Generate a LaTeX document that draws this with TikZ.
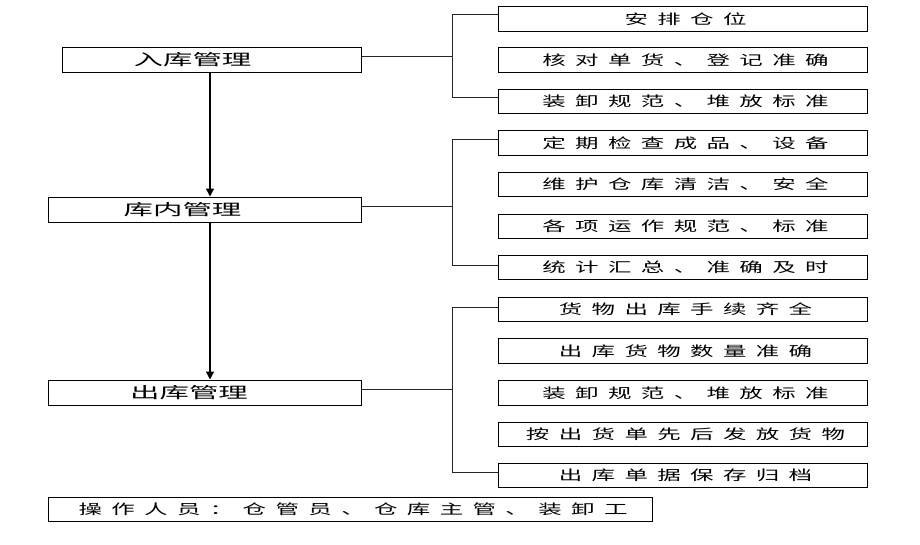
\documentclass[tikz,border=0pt]{standalone}
\usepackage{fontspec}
\usetikzlibrary{arrows.meta}
\newfontfamily\cjkL[FakeStretch=1.9]{Noto Sans CJK SC}
\newfontfamily\cjkR[FakeStretch=1.7,LetterSpace=68]{Noto Sans CJK SC}
\begin{document}
\begin{tikzpicture}[x=1pt,y=-1pt,
  lbox/.style={draw=black,line width=1pt,minimum height=25pt,inner sep=0pt,font=\cjkL\fontsize{15.5}{15.5}\selectfont},
  rbox/.style={draw=black,line width=1pt,minimum width=369pt,minimum height=24.5pt,inner sep=0pt,font=\cjkR\fontsize{13.8}{13.8}\selectfont},
  conn/.style={draw=black!85,line width=0.9pt},
  arr/.style={draw=black,line width=1.2pt,-{Triangle[length=8pt,width=8pt]}}]
\useasboundingbox (0,0) rectangle (920,544);
% left boxes
\node[lbox,minimum width=299pt] (in) at (211.5,59.5) {\hspace*{-38pt}入库管理};
\node[lbox,minimum width=313pt] (kn) at (204.5,209.5) {\hspace*{-44pt}库内管理};
\node[lbox,minimum width=313pt] (out) at (204.5,392.5) {\hspace*{-31pt}出库管理};
\node[rbox,minimum width=604pt] (ops) at (350,509.5) {\hspace*{6pt}操作人员：仓管员、仓库主管、装卸工};
% right boxes
\node[rbox] (r1) at (682.5,19) {\hspace*{6pt}安排仓位};
\node[rbox] (r2) at (682.5,60) {\hspace*{6pt}核对单货、登记准确};
\node[rbox] (r3) at (682.5,101.5) {\hspace*{6pt}装卸规范、堆放标准};
\node[rbox] (r4) at (682.5,143) {\hspace*{6pt}定期检查成品、设备};
\node[rbox] (r5) at (682.5,184.5) {\hspace*{6pt}维护仓库清洁、安全};
\node[rbox] (r6) at (682.5,226.5) {\hspace*{6pt}各项运作规范、标准};
\node[rbox] (r7) at (682.5,267.5) {\hspace*{6pt}统计汇总、准确及时};
\node[rbox] (r8) at (682.5,309.5) {\hspace*{6pt}货物出库手续齐全};
\node[rbox] (r9) at (682.5,351) {\hspace*{6pt}出库货物数量准确};
\node[rbox] (r10) at (682.5,393) {\hspace*{6pt}装卸规范、堆放标准};
\node[rbox] (r11) at (682.5,434.5) {\hspace*{6pt}按出货单先后发放货物};
\node[rbox] (r12) at (682.5,475.5) {\hspace*{6pt}出库单据保存归档};
% bracket coordinates
\coordinate (bx) at (452,0);
\coordinate (ax) at (210,0);
% arrows
\draw[arr] (in.south -| ax) -- (kn.north -| ax);
\draw[arr] (kn.south -| ax) -- (out.north -| ax);
% group 1
\draw[conn] ([yshift=3pt]in.east) -- ([yshift=3pt]in.east -| bx);
\draw[conn] ([yshift=5pt]r1.west) -- ([yshift=5pt]r1.west -| bx) -- ([yshift=4.5pt]r3.west -| bx) -- ([yshift=4.5pt]r3.west);
% group 2
\draw[conn] ([yshift=3.5pt]kn.east) -- ([yshift=3.5pt]kn.east -| bx);
\draw[conn] ([yshift=4pt]r4.west) -- ([yshift=4pt]r4.west -| bx) -- ([yshift=2.5pt]r7.west -| bx) -- ([yshift=2.5pt]r7.west);
% group 3
\draw[conn] ([yshift=3.5pt]out.east) -- ([yshift=3.5pt]out.east -| bx);
\draw[conn] ([yshift=2.5pt]r8.west) -- ([yshift=2.5pt]r8.west -| bx) -- ([yshift=3.5pt]r12.west -| bx) -- ([yshift=3.5pt]r12.west);
\end{tikzpicture}
\end{document}
